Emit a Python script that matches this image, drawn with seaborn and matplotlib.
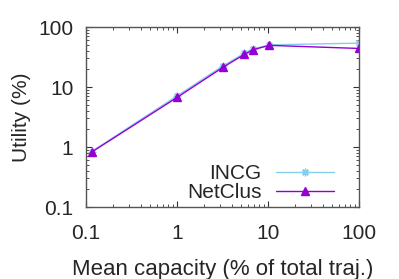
import matplotlib
matplotlib.use("Agg")
import matplotlib.pyplot as plt
import seaborn as sns
import pandas as pd

capacity = [0.115, 1, 3.2, 5.5, 6.9, 10.4, 100]
incg = [0.84, 7.1, 22.5, 36.5, 43.5, 50.5, 54]
netclus = [0.82, 6.7, 21.3, 35, 42, 49.5, 44]

df = pd.DataFrame({
    "capacity": capacity * 2,
    "utility": incg + netclus,
    "method": ["INCG"] * len(incg) + ["NetClus"] * len(netclus),
})

sns.set_style("ticks")
plt.rcParams["font.family"] = ["Liberation Sans", "DejaVu Sans"]

fig = plt.figure(figsize=(3.99, 2.79), dpi=100)
ax = fig.add_axes([0.2155, 0.258, 0.684, 0.645])

palette = {"INCG": "#87ceeb", "NetClus": "#9400d3"}
markers = {"INCG": (8, 2, 0), "NetClus": "^"}
for name in ["INCG", "NetClus"]:
    sub = df[df["method"] == name]
    sns.lineplot(data=sub, x="capacity", y="utility", ax=ax, color=palette[name],
                 marker=markers[name], markersize=5.5, markeredgewidth=1,
                 markeredgecolor=palette[name], linewidth=1, label=name)

ax.set_xscale("log")
ax.set_yscale("log")
ax.set_xlim(0.1, 100)
ax.set_ylim(0.1, 100)
ax.set_xticks([0.1, 1, 10, 100])
ax.set_xticklabels(["0.1", "1", "10", "100"])
ax.set_yticks([0.1, 1, 10, 100])
ax.set_yticklabels(["0.1", "1", "10", "100"])
ax.tick_params(which="both", direction="in", top=True, right=True, labelsize=15,
               color="#333333")
ax.tick_params(which="major", length=4)
ax.tick_params(axis="x", which="major", pad=12)
ax.tick_params(axis="y", which="major", pad=9)
ax.tick_params(which="minor", length=2)
for s in ax.spines.values():
    s.set_color("#555555")
    s.set_linewidth(1)

ax.set_xlabel("Mean capacity (% of total traj.)", fontsize=16, labelpad=12)
ax.set_ylabel("Utility (%)", fontsize=15, labelpad=5)

ax.legend(loc="lower right", frameon=False, fontsize=15, markerfirst=False,
          handlelength=2.8, handletextpad=0.7, labelspacing=0.0,
          borderaxespad=0.0, bbox_to_anchor=(0.94, -0.02))

fig.savefig("out.png", dpi=100)
